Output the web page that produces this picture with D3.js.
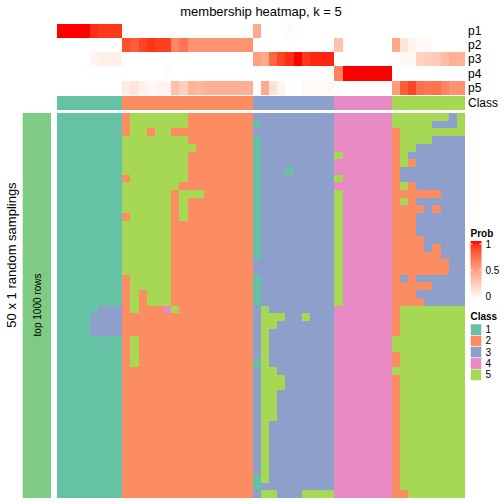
<!DOCTYPE html>
<html><head><meta charset="utf-8">
<script src="https://cdn.jsdelivr.net/npm/d3@7"></script>
<style>body{margin:0;background:#fff}svg{display:block}text{font-family:"Liberation Sans",Arial,sans-serif;fill:#000}</style>
</head><body><svg id="c" width="504" height="504"></svg>
<script>
// ---------------- data ----------------
const classLabels = ["1","2","3","4","5"];
const classColors = ["#66C2A5","#FC8D62","#8DA0CB","#E78AC3","#A6D854"];
const probLabels = ["p1","p2","p3","p4","p5"];
const probTicks = [0, 0.5, 1];
const colClass = "11111111"+"2222222222222222"+"3333333333"+"4444444"+"555555555";
const p1 = [1,1,1,1,0.94,0.92,0.92,0.92, 0,0,0,0,0,0,0,0,0,0,0,0,0,0,0,0, 0.45,0,0,0,0.02,0,0,0,0,0, 0,0,0,0,0,0,0, 0,0,0,0,0,0,0,0,0];
const p2 = [0,0,0,0,0,0,0,0, 0.85,0.8,0.88,0.93,0.9,0.9,0.62,0.7,0.56,0.56,0.56,0.56,0.56,0.56,0.56,0.56, 0,0,0,0,0,0,0,0,0,0, 0.32,0,0,0,0,0,0, 0.45,0.14,0.06,0.03,0.03,0,0,0,0];
const p3 = [0,0,0,0,0.06,0.08,0.08,0.08, 0,0,0,0,0,0,0,0,0,0,0,0,0,0,0,0, 0.5,0.45,0.76,0.88,0.94,1,0.92,0.96,0.96,0.96, 0,0,0,0,0,0,0, 0,0.04,0.04,0.24,0.26,0.28,0.36,0.42,0.4];
const p4 = [0,0,0,0,0,0,0,0, 0,0,0,0,0,0.02,0,0,0,0,0,0,0,0,0,0, 0,0,0,0,0,0,0,0,0,0, 0.64,1,1,1,1,1,1, 0,0,0,0,0,0,0,0,0];
const p5 = [0,0,0,0,0,0,0,0, 0.1,0.14,0.08,0.04,0.06,0.06,0.34,0.26,0.4,0.38,0.42,0.42,0.42,0.42,0.42,0.42, 0,0.45,0.16,0.06,0,0,0.03,0.03,0.03,0.03, 0,0,0,0,0,0,0, 0.52,0.8,0.88,0.72,0.7,0.72,0.62,0.56,0.58];
// class label of each sample (column) in each of the 50 random samplings (rows)
const samplings = [
"11111111"+"2555555522222222"+"3333333333"+"4444444"+"555555535",
"11111111"+"2555555522222222"+"1333333333"+"4444444"+"555553335",
"11111111"+"2552552222222222"+"3333333333"+"4444444"+"255555555",
"11111111"+"5555555522222222"+"1333333333"+"4444444"+"255553333",
"11111111"+"5555555552222222"+"1333333333"+"4444444"+"255333333",
"11111111"+"5555555522222222"+"1333333333"+"5444444"+"253333333",
"11111111"+"5555555522222222"+"1333333333"+"4444444"+"252333333",
"11111111"+"5555555522222222"+"1333133333"+"4444444"+"233333333",
"11111111"+"2555555522222222"+"1333333333"+"5444444"+"233333333",
"11111111"+"5555555222222222"+"1333333333"+"4444444"+"252333333",
"11111111"+"5555552555222222"+"1333333333"+"5444444"+"222222333",
"11111111"+"5555552522222222"+"1333333333"+"5444444"+"252333333",
"11111111"+"5555552522222222"+"1333333333"+"5444444"+"222232333",
"11111111"+"2555552522222222"+"1333333333"+"5444444"+"222333333",
"11111111"+"5555552222222222"+"1333333333"+"5444444"+"222333333",
"11111111"+"5555552222222222"+"1333333333"+"5444444"+"222333333",
"11111111"+"5555552222222222"+"1333333333"+"5444444"+"222233333",
"11111111"+"5555552222222222"+"1333333333"+"5444444"+"222232333",
"11111111"+"5555552222222222"+"1333333333"+"5444444"+"222222333",
"11111111"+"5555552222222222"+"3333333333"+"5444444"+"222222233",
"11111111"+"5555552222222222"+"3333333333"+"5444444"+"222222233",
"11111111"+"2555552222222222"+"1333333333"+"5444444"+"232333333",
"11111111"+"2555552222222222"+"1333333333"+"5444444"+"222223333",
"11111111"+"2525552222222222"+"1333333333"+"5444444"+"222333333",
"11111111"+"2525552222222222"+"1333333333"+"5444444"+"222233333",
"11111333"+"2522245222222222"+"3533333333"+"4444444"+"255555555",
"11113333"+"2222222222222222"+"3555335333"+"4444444"+"255555555",
"11113333"+"2222222222222222"+"3553333333"+"4444444"+"255555555",
"11113333"+"2222222222222222"+"3533333333"+"4444444"+"255555555",
"11111111"+"2522222222222222"+"3533333333"+"4444444"+"555555555",
"11111111"+"2522222222222222"+"3533333333"+"4444444"+"555555555",
"11111111"+"2522222222222222"+"3533333333"+"4444444"+"255555555",
"11111111"+"2522222222222222"+"1533333333"+"4444444"+"255555555",
"11111111"+"2222222222222222"+"3553333333"+"4444444"+"555555555",
"11111111"+"2222222222222222"+"3555333333"+"4444444"+"255555555",
"11111111"+"2222222222222222"+"3555333333"+"4444444"+"255555555",
"11111111"+"2222222222222222"+"3553333333"+"4444444"+"255555555",
"11111111"+"2222222222222222"+"3553333333"+"4444444"+"255555555",
"11111111"+"2222222222222222"+"3553333333"+"4444444"+"255555555",
"11111111"+"2222222222222222"+"3553333333"+"4444444"+"255555555",
"11111111"+"2222222222222222"+"3533333333"+"4444444"+"255555555",
"11111111"+"2222222222222222"+"3533333333"+"4444444"+"255555555",
"11111111"+"2222222222222222"+"3533333333"+"4444444"+"255555555",
"11111111"+"2222222222222222"+"3533333333"+"4444444"+"255555555",
"11111111"+"2222222222222222"+"3533333333"+"4444444"+"255555555",
"11111111"+"2222222222222222"+"3533333333"+"4444444"+"255555555",
"11111111"+"2222222222222222"+"3533333333"+"4444444"+"255555555",
"11111111"+"2222222222222222"+"1533333333"+"4444444"+"255555555",
"11111111"+"2222222222222222"+"1333333333"+"4444444"+"255555555",
"11111111"+"2222222222222222"+"3553335555"+"4444444"+"225555555"
];
const titleText = "membership heatmap, k = 5";
const leftTitle = "50 x 1 random samplings";
const leftAnnoText = "top 1000 rows";

// ---------------- drawing ----------------
const svg = d3.select("#c");
const probs = [p1,p2,p3,p4,p5];
const nCol = colClass.length;
const x = d3.scaleBand().domain(d3.range(nCol)).range([57, 465]);
const yP = d3.scaleBand().domain(probLabels).range([23.5, 95]);
const yM = d3.scaleBand().domain(d3.range(samplings.length)).range([113, 498]);
const classCol = d3.scaleOrdinal().domain(classLabels).range(classColors);
const probCol = d3.scaleLinear().domain([0,1]).range(["#FFFFFF","#FF0000"]).interpolate(d3.interpolateLab);

svg.append("text").attr("x", 261).attr("y", 16).attr("text-anchor","middle")
  .style("font-size","13px").text(titleText);

// probability annotation
const gP = svg.append("g").attr("shape-rendering","crispEdges");
probLabels.forEach((lab, r) => {
  gP.selectAll(null).data(probs[r]).enter().append("rect")
    .attr("x", (d,i) => x(i)).attr("width", x.bandwidth()+0.3)
    .attr("y", yP(lab)).attr("height", yP.bandwidth()+0.3)
    .attr("fill", d => probCol(d));
  svg.append("text").attr("x", 468).attr("y", yP(lab)+yP.bandwidth()/2)
    .attr("dominant-baseline","central").style("font-size","12px").text(lab);
});
// class annotation
gP.selectAll(null).data(colClass.split("")).enter().append("rect")
  .attr("x", (d,i) => x(i)).attr("width", x.bandwidth()+0.3)
  .attr("y", 96.3).attr("height", 14)
  .attr("fill", d => classCol(d));
svg.append("text").attr("x", 468).attr("y", 103.3).attr("dominant-baseline","central")
  .style("font-size","12px").text("Class");

// main heatmap
const gM = svg.append("g").attr("shape-rendering","crispEdges");
samplings.forEach((row, r) => {
  gM.selectAll(null).data(row.split("")).enter().append("rect")
    .attr("x", (d,i) => x(i)).attr("width", x.bandwidth()+0.3)
    .attr("y", yM(r)).attr("height", yM.bandwidth()+0.3)
    .attr("fill", d => classCol(d));
});

// left annotation bar
svg.append("rect").attr("x", 22.7).attr("y", yM.range()[0]).attr("width", 28.3)
  .attr("height", yM.range()[1]-yM.range()[0]).attr("fill", "#7FCB83");
svg.append("text").attr("transform", "translate(37,305) rotate(-90)")
  .attr("text-anchor","middle").attr("dominant-baseline","central")
  .style("font-size","10px").text(leftAnnoText);
svg.append("text").attr("transform", "translate(11,255) rotate(-90)")
  .attr("text-anchor","middle").attr("dominant-baseline","central")
  .style("font-size","13px").text(leftTitle);

// legends
const lx = 470.5;
svg.append("text").attr("x", lx).attr("y", 237).style("font-size","10px")
  .style("font-weight","bold").text("Prob");
const grad = svg.append("defs").append("linearGradient").attr("id","pg")
  .attr("x1",0).attr("y1",1).attr("x2",0).attr("y2",0);
d3.range(0, 1.01, 0.1).forEach(t => grad.append("stop").attr("offset", t).attr("stop-color", probCol(t)));
svg.append("rect").attr("x", lx).attr("y", 241).attr("width", 11).attr("height", 58).attr("fill","url(#pg)");
const yL = d3.scaleLinear().domain([0,1]).range([296, 244]);
probTicks.forEach(t => {
  svg.append("line").attr("x1", lx).attr("x2", lx+2).attr("y1", yL(t)).attr("y2", yL(t)).attr("stroke","#fff");
  svg.append("line").attr("x1", lx+9).attr("x2", lx+11).attr("y1", yL(t)).attr("y2", yL(t)).attr("stroke","#fff");
  svg.append("text").attr("x", lx+15).attr("y", yL(t)).attr("dominant-baseline","central")
    .style("font-size","10px").text(t);
});
svg.append("text").attr("x", lx).attr("y", 320).style("font-size","10px")
  .style("font-weight","bold").text("Class");
const yC = d3.scaleBand().domain(classLabels).range([324, 380.5]);
classLabels.forEach(c => {
  svg.append("rect").attr("x", lx).attr("y", yC(c)).attr("width", 11).attr("height", yC.bandwidth())
    .attr("fill", classCol(c)).attr("stroke","#fff").attr("stroke-width",0.5);
  svg.append("text").attr("x", lx+15).attr("y", yC(c)+yC.bandwidth()/2).attr("dominant-baseline","central")
    .style("font-size","10px").text(c);
});
</script></body></html>
